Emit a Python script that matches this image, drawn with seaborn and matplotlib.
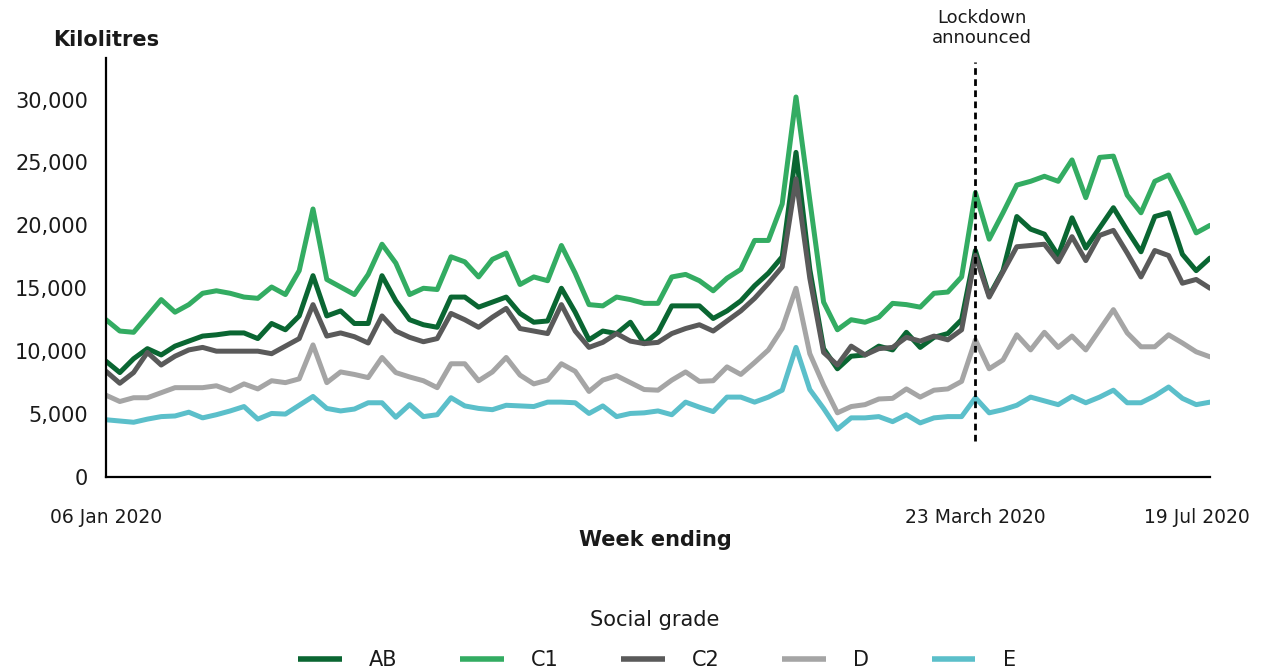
import matplotlib
matplotlib.use("Agg")
import matplotlib.pyplot as plt
from matplotlib.ticker import FuncFormatter
from matplotlib.lines import Line2D
from matplotlib.transforms import ScaledTranslation
import seaborn as sns
import pandas as pd

# weekly kilolitres per social grade, 81 weeks
AB = [9200, 8300, 9400, 10200, 9700, 10400, 10800, 11200, 11300, 11450,
      11450, 11000, 12200, 11700, 12800, 16000, 12800, 13200, 12200, 12200,
      16000, 14000, 12500, 12100, 11900, 14300, 14300, 13500, 13900, 14300,
      13000, 12300, 12400, 15000, 13100, 10900, 11600, 11400, 12300, 10600,
      11500, 13600, 13600, 13600, 12600, 13200, 14000, 15200, 16200, 17500,
      25800, 16500, 10200, 8600, 9600, 9700, 10400, 10100, 11500, 10300,
      11100, 11400, 12500, 18000, 14400, 16400, 20700, 19700, 19300, 17600,
      20600, 18200, 19800, 21400, 19600, 17900, 20700, 21000, 17700, 16400, 17400]
C1 = [12500, 11600, 11500, 12800, 14100, 13100, 13700, 14600, 14800, 14600,
      14300, 14200, 15100, 14500, 16400, 21300, 15700, 15100, 14500, 16100,
      18500, 17000, 14500, 15000, 14900, 17500, 17100, 15900, 17300, 17800,
      15300, 15900, 15600, 18400, 16200, 13700, 13600, 14300, 14100, 13800,
      13800, 15900, 16100, 15600, 14800, 15800, 16500, 18800, 18800, 21700,
      30200, 22000, 13900, 11700, 12500, 12300, 12700, 13800, 13700, 13500,
      14600, 14700, 15900, 22600, 18900, 21000, 23200, 23500, 23900, 23500,
      25200, 22200, 25400, 25500, 22400, 21000, 23500, 24000, 21800, 19400, 20000]
C2 = [8400, 7450, 8300, 9900, 8900, 9600, 10100, 10300, 10000, 10000,
      10000, 10000, 9800, 10400, 11000, 13700, 11200, 11450, 11150, 10650,
      12800, 11600, 11100, 10750, 11000, 13000, 12500, 11900, 12700, 13400,
      11800, 11600, 11400, 13700, 11600, 10300, 10700, 11400, 10800, 10600,
      10700, 11400, 11800, 12100, 11600, 12400, 13200, 14200, 15400, 16700,
      23700, 15800, 9900, 8900, 10400, 9700, 10200, 10300, 11100, 10800,
      11200, 10900, 11700, 17600, 14300, 16300, 18300, 18400, 18500, 17100,
      19100, 17200, 19200, 19600, 17800, 15900, 18000, 17600, 15400, 15700, 15000]
D = [6500, 6000, 6300, 6300, 6700, 7100, 7100, 7100, 7250, 6850,
     7400, 7000, 7650, 7500, 7800, 10500, 7500, 8350, 8150, 7900,
     9500, 8300, 7950, 7650, 7100, 9000, 9000, 7650, 8350, 9500,
     8100, 7400, 7700, 9000, 8400, 6800, 7700, 8050, 7500, 6950,
     6900, 7700, 8350, 7600, 7650, 8750, 8150, 9100, 10100, 11800,
     15000, 9800, 7300, 5100, 5600, 5750, 6200, 6250, 7000, 6350,
     6900, 7000, 7600, 10900, 8600, 9300, 11300, 10100, 11500, 10300,
     11200, 10100, 11700, 13300, 11450, 10350, 10350, 11300, 10650, 9950, 9550]
E = [4550, 4450, 4350, 4600, 4800, 4850, 5150, 4700, 4950, 5250,
     5600, 4600, 5050, 5000, 5700, 6400, 5450, 5250, 5400, 5900,
     5900, 4750, 5750, 4800, 4950, 6300, 5650, 5450, 5350, 5700,
     5650, 5600, 5950, 5950, 5900, 5050, 5650, 4800, 5050, 5100,
     5250, 4950, 5950, 5550, 5200, 6350, 6350, 5950, 6350, 6900,
     10300, 6950, 5450, 3800, 4700, 4700, 4800, 4400, 4950, 4300,
     4700, 4800, 4800, 6300, 5100, 5350, 5700, 6350, 6050, 5750,
     6400, 5900, 6350, 6900, 5900, 5900, 6450, 7150, 6250, 5750, 5950]

grades = ["AB", "C1", "C2", "D", "E"]
colors = ["#0a6632", "#33ac62", "#5a5a5a", "#a5a5a5", "#5bbfca"]
tick_weeks = [0, 63, 80]
tick_labels = ["06 Jan 2020", "23 March 2020", "19 Jul 2020"]
lockdown_week = 63

series = dict(zip(grades, [AB, C1, C2, D, E]))
df = pd.concat(
    [pd.DataFrame({"week": range(len(v)), "kl": v, "grade": g}) for g, v in series.items()],
    ignore_index=True,
)

sns.set_theme(style="white")
plt.rcParams["font.family"] = ["DejaVu Sans"]

fig = plt.figure(figsize=(12.61, 6.70), dpi=100)
ax = fig.add_axes([106 / 1261, 1 - 477 / 670, 1104 / 1261, 419 / 670])

sns.lineplot(data=df, x="week", y="kl", hue="grade", hue_order=grades,
             palette=colors, linewidth=3.6, legend=False, ax=ax)

ax.vlines(lockdown_week, 2900, 33000, colors="black", linewidth=2,
          linestyles=(0, (2.4, 1.6)))

ax.set_xlim(0, 80)
ax.set_ylim(0, 33300)
ax.set_yticks(range(0, 30001, 5000))
ax.yaxis.set_major_formatter(FuncFormatter(lambda v, p: f"{int(v):,}"))
ax.set_xticks(tick_weeks)
ax.set_xticklabels(tick_labels)
ax.tick_params(axis="y", length=0, pad=13, labelsize=15, colors="#1a1a1a")
ax.tick_params(axis="x", length=0, pad=22, labelsize=13.5, colors="#1a1a1a")
last = ax.get_xticklabels()[-1]
last.set_transform(last.get_transform() + ScaledTranslation(-0.13, 0, fig.dpi_scale_trans))
ax.set_xlabel("")
ax.set_ylabel("")

for s in ["top", "right"]:
    ax.spines[s].set_visible(False)
for s in ["left", "bottom"]:
    ax.spines[s].set_color("black")
    ax.spines[s].set_linewidth(1.6)

fig.text(106 / 1261, 1 - 40 / 670, "Kilolitres", ha="center", va="center",
         fontsize=15, fontweight="bold", color="#1a1a1a")
fig.text(655 / 1261, 1 - 540 / 670, "Week ending", ha="center", va="center",
         fontsize=15, fontweight="bold", color="#1a1a1a")
fig.text(982 / 1261, 1 - 28 / 670, "Lockdown\nannounced", ha="center", va="center",
         fontsize=13, linespacing=1.1, color="#1a1a1a")
fig.text(655 / 1261, 1 - 620 / 670, "Social grade", ha="center", va="center",
         fontsize=15, color="#1a1a1a")

handles = [Line2D([], [], color=c, linewidth=4, solid_capstyle="butt") for c in colors]
fig.legend(handles, grades, loc="center", bbox_to_anchor=(657 / 1261, 1 - 660 / 670),
           ncol=5, frameon=False, fontsize=15, handlelength=2.1,
           handletextpad=1.3, columnspacing=3.0, labelcolor="#1a1a1a")

fig.savefig("out.png", dpi=100)
